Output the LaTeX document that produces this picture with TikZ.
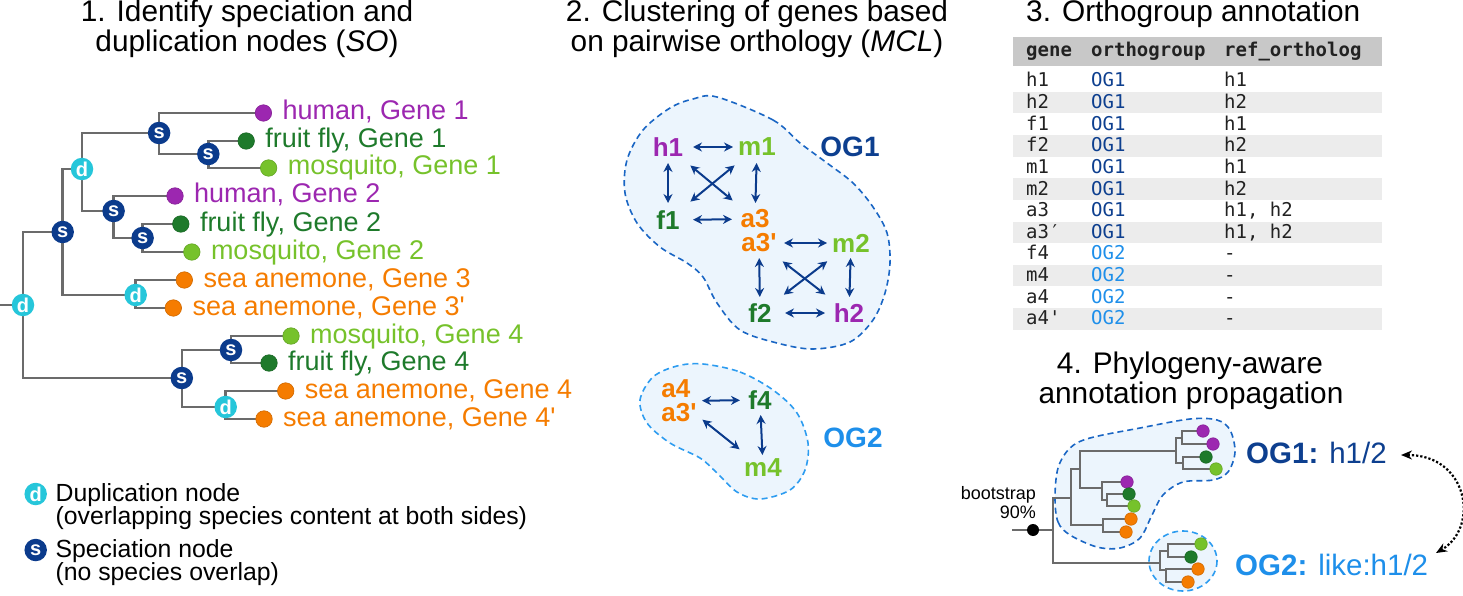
\documentclass[tikz,border=0pt]{standalone}
\usepackage{fontspec}
\setmainfont{Liberation Sans}[Ligatures=TeXOff]
\setmonofont{DejaVu Sans Mono}
\usetikzlibrary{arrows.meta}
\pgfdeclarelayer{back}
\pgfdeclarelayer{bg}
\pgfsetlayers{back,bg,main}
\definecolor{treegray}{HTML}{6B6B6B}
\definecolor{snavy}{HTML}{0B3B8C}
\definecolor{dcyan}{HTML}{26C6DA}
\definecolor{hpurple}{HTML}{9C27B0}
\definecolor{fgreen}{HTML}{1E7A2B}
\definecolor{mgreen}{HTML}{76C22B}
\definecolor{aorange}{HTML}{F57C00}
\definecolor{ogone}{HTML}{0D3F8F}
\definecolor{ogtwo}{HTML}{1E8FEA}
\definecolor{blobfill}{HTML}{ECF5FD}
\definecolor{blobonel}{HTML}{1A66C4}
\definecolor{blobtwol}{HTML}{2D9CF0}
\definecolor{hdrgray}{HTML}{C8C8C8}
\definecolor{rowgray}{HTML}{ECECEC}
\definecolor{tabtext}{HTML}{222222}
\begin{document}
\begin{tikzpicture}[x=1pt,y=-1pt,
  edgeline/.style={draw=treegray,line width=2.6pt},
  edgefour/.style={draw=treegray,line width=2.2pt},
  snode/.style={circle,fill=snavy,inner sep=0pt,minimum size=22.5pt,text=white,font=\fontsize{20}{20}\selectfont\bfseries},
  dnode/.style={circle,fill=dcyan,inner sep=0pt,minimum size=22.5pt,text=white,font=\fontsize{20}{20}\selectfont\bfseries},
  leafdot/.style={circle,inner sep=0pt,minimum size=16.5pt,fill=#1,draw=#1!85!black,line width=0.6pt},
  smalldot/.style={circle,inner sep=0pt,minimum size=12.5pt,fill=#1,draw=#1!85!black,line width=0.6pt},
  leaflab/.style={anchor=base west,text=#1,font=\fontsize{27}{27}\selectfont,inner sep=0pt},
  legtext/.style={anchor=base west,font=\fontsize{24.8}{24.8}\selectfont,inner sep=0pt},
  ttl/.style={anchor=base,font=\fontsize{29.8}{29.8}\selectfont,inner sep=0pt},
  genelab/.style={text=#1,font=\fontsize{26}{24}\selectfont\bfseries,inner sep=0pt},
  oglab/.style={text=#1,font=\fontsize{28}{28}\selectfont\bfseries,inner sep=0pt},
  biarrow/.style={draw=snavy,line width=2pt,{Stealth[length=9pt,width=9pt]}-{Stealth[length=9pt,width=9pt]}},
  blobone/.style={draw=blobonel,fill=blobfill,line width=1.6pt,dash pattern=on 6pt off 4pt},
  blobtwo/.style={draw=blobtwol,fill=blobfill,line width=1.6pt,dash pattern=on 6pt off 4pt},
  tabcell/.style={anchor=base west,font=\ttfamily\fontsize{19}{19}\selectfont,inner sep=0pt,text=#1}
]
\useasboundingbox (0,0) rectangle (1463,596);

% ================= Panel 1 =================
\node[ttl] at (247,22) {1. Identify speciation and};
\node[ttl] at (247,52) {duplication nodes (\textit{SO})};

\coordinate (R0) at (0,305);
\node[dnode] (R) at (23,305) {d};
\node[snode] (S1) at (62.7,232) {s};
\node[snode] (S2) at (181.8,378) {s};
\node[dnode] (D1) at (82,169) {d};
\node[dnode] (D2) at (135.7,295) {d};
\node[snode] (S3) at (159.1,133) {s};
\node[snode] (S4) at (113.6,211) {s};
\node[snode] (S5) at (208.3,154) {s};
\node[snode] (S6) at (142.6,238) {s};
\node[snode] (S7) at (231,350) {s};
\node[dnode] (D3) at (225.7,407) {d};

\node[leafdot=hpurple] (L1) at (263.4,113) {};
\node[leafdot=fgreen] (L2) at (246.2,141) {};
\node[leafdot=mgreen] (L3) at (268.6,168) {};
\node[leafdot=hpurple] (L4) at (175,196) {};
\node[leafdot=fgreen] (L5) at (180.8,224) {};
\node[leafdot=mgreen] (L6) at (191.8,252) {};
\node[leafdot=aorange] (L7) at (184.3,280) {};
\node[leafdot=aorange] (L8) at (173.3,308) {};
\node[leafdot=mgreen] (L9) at (291,336) {};
\node[leafdot=fgreen] (L10) at (269,363) {};
\node[leafdot=aorange] (L11) at (285.7,391) {};
\node[leafdot=aorange] (L12) at (264,419) {};

\begin{pgfonlayer}{bg}
\draw[edgeline] (R0) -- (R.center);
\foreach \a/\b in {R/S1,R/S2,S1/D1,S1/D2,D1/S3,D1/S4,S3/L1,S3/S5,S5/L2,S5/L3,S4/L4,S4/S6,S6/L5,S6/L6,D2/L7,D2/L8,S2/S7,S2/D3,S7/L9,S7/L10,D3/L11,D3/L12}
  \draw[edgeline] (\a.center) |- (\b.center);
\end{pgfonlayer}

\node[leaflab=hpurple] at ([xshift=19pt,yshift=-7pt]L1.center) {human, Gene 1};
\node[leaflab=fgreen] at ([xshift=19pt,yshift=-7pt]L2.center) {fruit fly, Gene 1};
\node[leaflab=mgreen] at ([xshift=19pt,yshift=-7pt]L3.center) {mosquito, Gene 1};
\node[leaflab=hpurple] at ([xshift=19pt,yshift=-7pt]L4.center) {human, Gene 2};
\node[leaflab=fgreen] at ([xshift=19pt,yshift=-7pt]L5.center) {fruit fly, Gene 2};
\node[leaflab=mgreen] at ([xshift=19pt,yshift=-7pt]L6.center) {mosquito, Gene 2};
\node[leaflab=aorange] at ([xshift=19pt,yshift=-7pt]L7.center) {sea anemone, Gene 3};
\node[leaflab=aorange] at ([xshift=19pt,yshift=-7pt]L8.center) {sea anemone, Gene 3'};
\node[leaflab=mgreen] at ([xshift=19pt,yshift=-7pt]L9.center) {mosquito, Gene 4};
\node[leaflab=fgreen] at ([xshift=19pt,yshift=-7pt]L10.center) {fruit fly, Gene 4};
\node[leaflab=aorange] at ([xshift=19pt,yshift=-7pt]L11.center) {sea anemone, Gene 4};
\node[leaflab=aorange] at ([xshift=19pt,yshift=-7pt]L12.center) {sea anemone, Gene 4'};

% legend
\node[dnode] (legd) at (35.7,494) {d};
\node[legtext] at (55.4,501) {Duplication node};
\node[legtext] at (55.4,524) {(overlapping species content at both sides)};
\node[snode] (legs) at (35.7,550) {s};
\node[legtext] at (55.4,557) {Speciation node};
\node[legtext] at (55.4,580) {(no species overlap)};

% ================= Panel 2 =================
\node[ttl] at (757,22) {2. Clustering of genes based};
\node[ttl] at (757,52) {on pairwise orthology (\textit{MCL})};

\begin{pgfonlayer}{back}
\draw[blobone] plot[smooth cycle,tension=0.55] coordinates {
 (717,97) (773,120) (800,143) (827,163) (853,183) (873,207) (887,233) (890,263)
 (885,293) (873,320) (850,342) (813,349) (777,343) (740,330) (717,303) (703,277)
 (687,263) (660,247) (637,223) (625,193) (627,160) (643,130) (670,108) (693,99)};
\draw[blobtwo] plot[smooth cycle,tension=0.55] coordinates {
 (703,364) (740,372) (773,390) (797,413) (808,443) (805,470) (790,490) (760,499)
 (737,492) (717,473) (700,458) (670,443) (647,423) (640,400) (653,377) (677,366)};
\end{pgfonlayer}

\node[genelab=hpurple] (h1) at (668,147) {h1};
\node[genelab=mgreen] (m1) at (757,147) {m1};
\node[genelab=fgreen] (f1) at (668,220) {f1};
\node[genelab=aorange] (a3) at (755,219) {a3};
\node[genelab=aorange] (a3p) at (759,243) {a3'};
\node[genelab=mgreen] (m2) at (851,243) {m2};
\node[genelab=fgreen] (f2) at (760,313) {f2};
\node[genelab=hpurple] (h2) at (849,313) {h2};
\node[oglab=ogone] (og1) at (850,147) {OG1};

\draw[biarrow,shorten <=25pt,shorten >=24pt] (h1.center) -- (m1.center);
\draw[biarrow,shorten <=16pt,shorten >=17pt] (h1.center) -- (f1.center);
\draw[biarrow,shorten <=16pt,shorten >=16pt] (m1.center) -- (a3.center);
\draw[biarrow,shorten <=25pt,shorten >=23pt] (f1.center) -- (a3.center);
\draw[biarrow,shorten <=29pt,shorten >=29pt] (h1.center) -- (a3.center);
\draw[biarrow,shorten <=29pt,shorten >=29pt] (f1.center) -- (m1.center);
\draw[biarrow,shorten <=25pt,shorten >=24pt] (a3p.center) -- (m2.center);
\draw[biarrow,shorten <=15pt,shorten >=16pt] (a3p.center) -- (f2.center);
\draw[biarrow,shorten <=15pt,shorten >=16pt] (m2.center) -- (h2.center);
\draw[biarrow,shorten <=30pt,shorten >=30pt] (a3p.center) -- (h2.center);
\draw[biarrow,shorten <=30pt,shorten >=30pt] (f2.center) -- (m2.center);
\draw[biarrow,shorten <=25pt,shorten >=24pt] (f2.center) -- (h2.center);

\node[genelab=aorange,align=left] (a4g) at (679,401) {a4\\a3'};
\node[genelab=fgreen] (f4) at (760,400) {f4};
\node[genelab=mgreen] (m4) at (763,468) {m4};
\node[oglab=ogtwo] (og2) at (853,438) {OG2};
\draw[biarrow,shorten <=23pt,shorten >=20pt] (a4g.center) -- (f4.center);
\draw[biarrow,shorten <=30pt,shorten >=30pt] (a4g.center) -- (m4.center);
\draw[biarrow,shorten <=15pt,shorten >=13pt] (f4.center) -- (m4.center);

% ================= Panel 3 =================
\node[anchor=base west,font=\fontsize{29.8}{29.8}\selectfont,inner sep=0pt] at (1026,22) {3. Orthogroup annotation};
\begin{pgfonlayer}{back}
\fill[hdrgray] (1013,37) rectangle (1382,66);
\foreach \k in {2,4,...,12}{
  \pgfmathsetmacro{\yt}{70.3+(\k-1)*21.6}
  \fill[rowgray] (1013,\yt) rectangle (1382,\yt+21.6);
}
\end{pgfonlayer}
\node[tabcell=tabtext,font=\ttfamily\bfseries\fontsize{19}{19}\selectfont] at (1026,57) {gene};
\node[tabcell=tabtext,font=\ttfamily\bfseries\fontsize{19}{19}\selectfont] at (1091,57) {orthogroup};
\node[tabcell=tabtext,font=\ttfamily\bfseries\fontsize{19}{19}\selectfont] at (1224,57) {ref\_ortholog};
\foreach \g/\o/\c/\r [count=\k] in {h1/OG1/ogone/h1, h2/OG1/ogone/h2, f1/OG1/ogone/h1, f2/OG1/ogone/h2, m1/OG1/ogone/h1, m2/OG1/ogone/h2, a3/OG1/ogone/{h1, h2}, a3′/OG1/ogone/{h1, h2}, f4/OG2/ogtwo/-, m4/OG2/ogtwo/-, a4/OG2/ogtwo/-, a4'/OG2/ogtwo/-}{
  \pgfmathsetmacro{\yb}{87+(\k-1)*21.6}
  \node[tabcell=tabtext] at (1026,\yb) {\g};
  \node[tabcell=\c] at (1091,\yb) {\o};
  \node[tabcell=tabtext] at (1224,\yb) {\r};
}

% ================= Panel 4 =================
\node[ttl] at (1190,373) {4. Phylogeny-aware};
\node[ttl] at (1191,403) {annotation propagation};

\begin{pgfonlayer}{back}
\draw[blobone] plot[smooth cycle,tension=0.55] coordinates {
 (1055,498) (1058,522) (1070,535) (1097,547) (1120,548) (1140,538) (1152,515)
 (1163,495) (1183,482) (1213,480) (1228,472) (1235,452) (1230,430) (1217,420)
 (1190,419) (1140,428) (1090,438) (1070,448) (1058,468)};
\draw[blobtwo] (1183,561) ellipse [x radius=34, y radius=30];
\end{pgfonlayer}

\coordinate (P0) at (1012,530);
\coordinate (Q0) at (1053,530);
\coordinate (A) at (1071,498);
\coordinate (E) at (1160,563);
\coordinate (B) at (1080,469);
\coordinate (C3) at (1103,525);
\coordinate (B1) at (1176,451);
\coordinate (B2) at (1102,488);
\coordinate (B1a) at (1182,438);
\coordinate (B1b) at (1183,463);
\coordinate (B2b) at (1107,500);
\coordinate (E1) at (1168,551);
\coordinate (E2) at (1166,570);
\node[smalldot=hpurple] (p1) at (1203,431) {};
\node[smalldot=hpurple] (p2) at (1213,444) {};
\node[smalldot=fgreen] (g1) at (1206,457) {};
\node[smalldot=mgreen] (l1) at (1216,469) {};
\node[smalldot=hpurple] (p3) at (1127,482) {};
\node[smalldot=fgreen] (g2) at (1129,494) {};
\node[smalldot=mgreen] (l2) at (1134,506) {};
\node[smalldot=aorange] (o1) at (1131,519) {};
\node[smalldot=aorange] (o2) at (1126,532) {};
\node[smalldot=mgreen] (l3) at (1201,544) {};
\node[smalldot=fgreen] (g3) at (1191,557) {};
\node[smalldot=aorange] (o3) at (1198,569) {};
\node[smalldot=aorange] (o4) at (1188,582) {};
\node[circle,fill=black,inner sep=0pt,minimum size=12pt] (boot) at (1033,530) {};
\begin{pgfonlayer}{bg}
\draw[edgefour] (P0) -- (Q0);
\foreach \a/\b in {Q0/A,Q0/E,A/B,A/C3,B/B1,B/B2,B1/B1a,B1/B1b,B1a/p1,B1a/p2,B1b/g1,B1b/l1,B2/p3,B2/B2b,B2b/g2,B2b/l2,C3/o1,C3/o2,E/E1,E/E2,E1/l3,E1/g3,E2/o3,E2/o4}
  \draw[edgefour] (\a) |- (\b.center);
\end{pgfonlayer}
\node[anchor=base east,font=\fontsize{18}{18}\selectfont,inner sep=0pt] at (1036,499) {bootstrap};
\node[anchor=base east,font=\fontsize{18}{18}\selectfont,inner sep=0pt] at (1036,518) {90\%};

\node[anchor=base west,font=\fontsize{29.5}{29.5}\selectfont,text=ogone,inner sep=0pt] (og1lab) at (1246,463) {\textbf{OG1:} h1/2};
\node[anchor=base west,font=\fontsize{29.5}{29.5}\selectfont,text=ogtwo,inner sep=0pt] (og2lab) at (1235,575) {\textbf{OG2:} like:h1/2};
\coordinate (T1) at (1401,455);
\coordinate (T2) at (1436,553);
\draw[line width=2.2pt,dash pattern=on 2.2pt off 2pt,{Stealth[length=11pt,width=9pt]}-{Stealth[length=11pt,width=9pt]}]
  (T1) .. controls (1468,455) and (1480,527) .. (T2);
\end{tikzpicture}
\end{document}
